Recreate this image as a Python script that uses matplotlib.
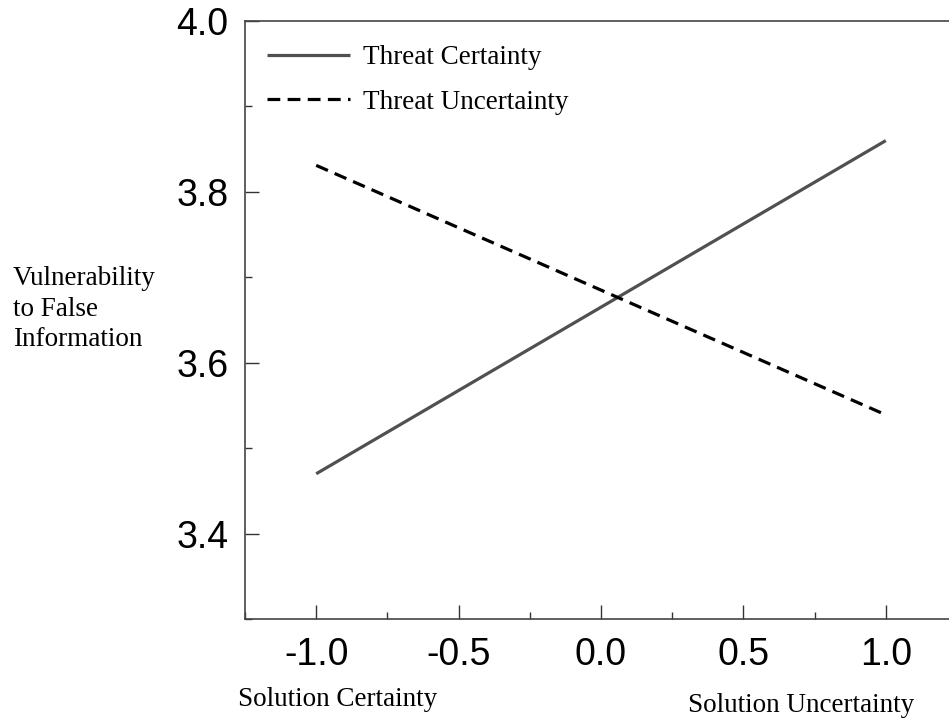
import matplotlib
matplotlib.use("Agg")
import matplotlib.pyplot as plt
from matplotlib.ticker import MultipleLocator

# ── Data ──────────────────────────────────────────────────────────────────────
solution_x = [-1.0, 1.0]
threat_certainty = [3.470, 3.860]
threat_uncertainty = [3.831, 3.539]
series_labels = ["Threat Certainty", "Threat Uncertainty"]
y_label = "Vulnerability\nto False\nInformation"
x_left_label = "Solution Certainty"
x_right_label = "Solution Uncertainty"

W, H, DPI = 949, 719, 100
SERIF = ["Liberation Serif", "DejaVu Serif"]
SANS = ["Liberation Sans", "DejaVu Sans"]
plt.rcParams["axes.unicode_minus"] = False

fig = plt.figure(figsize=(W / DPI, H / DPI), dpi=DPI)
fig.patch.set_facecolor("white")

# axes run past the right edge of the figure (right spine cropped)
left, right, top, bottom = 245, 957, 21, 619
ax = fig.add_axes([left / W, 1 - bottom / H, (right - left) / W, (bottom - top) / H])

ax.plot(solution_x, threat_certainty, color="#505050", linewidth=2.3,
        solid_capstyle="butt", label=series_labels[0])
ax.plot(solution_x, threat_uncertainty, color="black", linewidth=2.3,
        linestyle=(0, (4.0, 2.3)), label=series_labels[1])

ax.set_xlim(-1.25, 1.25)
ax.set_ylim(3.3, 4.0)
ax.xaxis.set_major_locator(MultipleLocator(0.5))
ax.xaxis.set_minor_locator(MultipleLocator(0.25))
ax.yaxis.set_major_locator(MultipleLocator(0.2))
ax.yaxis.set_minor_locator(MultipleLocator(0.1))
ax.tick_params(which="both", direction="in", color="#333333", width=1.0,
               top=False, right=False)
ax.tick_params(which="major", length=10, pad=13, labelsize=27)
ax.tick_params(which="minor", length=5)
ax.tick_params(axis="y", which="major", pad=12)
for lbl in ax.get_xticklabels() + ax.get_yticklabels():
    lbl.set_family(SANS)

for sp in ax.spines.values():
    sp.set_color("#444444")
    sp.set_linewidth(1.2)

leg = ax.legend(loc="upper left", bbox_to_anchor=(-0.004, 1.0), frameon=False,
                handlelength=3.1, handletextpad=0.45, labelspacing=0.72,
                borderaxespad=0.5, prop={"family": SERIF, "size": 19.5})

fig.text(13 / W, 1 - 266 / H, y_label, ha="left", va="top",
         family=SERIF, fontsize=19.5, linespacing=1.3)
fig.text(338 / W, 1 - 700 / H, x_left_label, ha="center", va="center",
         family=SERIF, fontsize=19.5)
fig.text(801 / W, 1 - 706 / H, x_right_label, ha="center", va="center",
         family=SERIF, fontsize=19.5)

fig.savefig("out.png", dpi=DPI, facecolor="white")
